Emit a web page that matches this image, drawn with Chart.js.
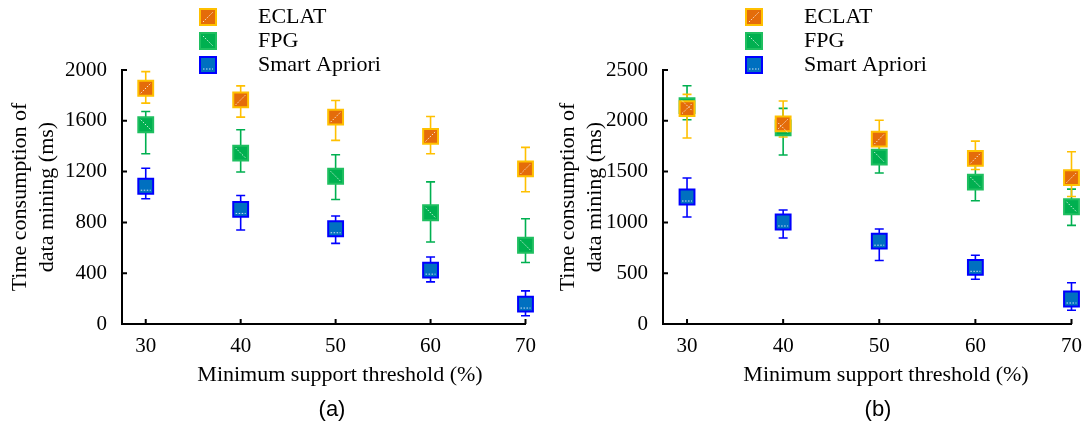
<!DOCTYPE html>
<html>
<head>
<meta charset="utf-8">
<script src="https://cdn.jsdelivr.net/npm/chart.js@4.4.0/dist/chart.umd.min.js"></script>
<style>
  html, body { margin: 0; padding: 0; background: #fff; }
  #wrap { position: relative; width: 1092px; height: 429px; }
  .box { position: absolute; top: 0; width: 546px; height: 429px; }
</style>
</head>
<body>
<div id="wrap">
  <div class="box" style="left:0"><canvas id="chartA" width="546" height="429"></canvas></div>
  <div class="box" style="left:546px"><canvas id="chartB" width="546" height="429"></canvas></div>
</div>
<script>
const thresholds = [30, 40, 50, 60, 70]
const seriesNames = ['ECLAT', 'FPG', 'Smart Apriori']

// (a)
const eclatA = [1856, 1765, 1629, 1477, 1221]
const eclatAHigh = [1987, 1875, 1760, 1634, 1391]
const eclatALow = [1739, 1629, 1446, 1341, 1041]
const fpgA = [1569, 1346, 1163, 876, 620]
const fpgAHigh = [1673, 1529, 1333, 1119, 829]
const fpgALow = [1341, 1197, 980, 646, 484]
const aprioriA = [1085, 902, 750, 424, 157]
const aprioriAHigh = [1226, 1012, 850, 528, 261]
const aprioriALow = [986, 740, 635, 332, 65]

// (b)
const eclatB = [2120, 1970, 1820, 1630, 1440]
const eclatBHigh = [2260, 2195, 2005, 1800, 1696]
const eclatBLow = [1830, 1840, 1690, 1520, 1255]
const fpgB = [2150, 1930, 1643, 1397, 1154]
const fpgBHigh = [2345, 2122, 1781, 1604, 1328]
const fpgBLow = [2010, 1663, 1486, 1213, 971]
const aprioriB = [1250, 1004, 815, 558, 246]
const aprioriBHigh = [1437, 1122, 935, 676, 406]
const aprioriBLow = [1053, 846, 625, 440, 135]

const serif = 'Liberation Serif'
const xTitle = 'Minimum support threshold (%)'

const styles = [
  { fill: '#E46C0A', border: '#FFC000', bar: '#FFC000', hatch: 'up' },
  { fill: '#00B050', border: '#1FBF60', bar: '#00B050', hatch: 'down' },
  { fill: '#0070C0', border: '#0000FF', bar: '#0000FF', hatch: 'flat' }
]

// little white dotted strokes inside the square markers
const drawHatch = (ctx, kind, cx, cy, h) => {
  ctx.save()
  ctx.strokeStyle = 'rgba(255,255,255,0.8)'
  ctx.lineWidth = 1
  ctx.setLineDash([1.5, 1.5])
  ctx.beginPath()
  if (kind === 'up') { ctx.moveTo(cx - h, cy + h); ctx.lineTo(cx + h, cy - h) }
  else if (kind === 'down') { ctx.moveTo(cx - h, cy - h); ctx.lineTo(cx + h, cy + h) }
  else { ctx.moveTo(cx - h, cy + h - 1); ctx.lineTo(cx + h, cy + h - 1) }
  ctx.stroke()
  ctx.restore()
}

const errorBars = {
  id: 'errorBars',
  beforeDatasetsDraw(chart) {
    const { ctx } = chart
    const yScale = chart.scales.y
    for (let i = chart.data.datasets.length - 1; i >= 0; i--) {
      const ds = chart.data.datasets[i]
      const meta = chart.getDatasetMeta(i)
      ctx.save()
      ctx.strokeStyle = ds.barColor
      ctx.lineWidth = 1.6
      meta.data.forEach((pt, j) => {
        const hi = yScale.getPixelForValue(ds.high[j])
        const lo = yScale.getPixelForValue(ds.low[j])
        ctx.beginPath()
        ctx.moveTo(pt.x, hi); ctx.lineTo(pt.x, lo)
        ctx.moveTo(pt.x - 4.5, hi); ctx.lineTo(pt.x + 4.5, hi)
        ctx.moveTo(pt.x - 4.5, lo); ctx.lineTo(pt.x + 4.5, lo)
        ctx.stroke()
      })
      ctx.restore()
    }
  },
  afterDatasetsDraw(chart) {
    const { ctx } = chart
    for (let i = chart.data.datasets.length - 1; i >= 0; i--) {
      const ds = chart.data.datasets[i]
      chart.getDatasetMeta(i).data.forEach(pt => drawHatch(ctx, ds.hatch, pt.x, pt.y, 5))
    }
  }
}

const inwardTicks = {
  id: 'inwardTicks',
  afterDraw(chart) {
    const { ctx, chartArea } = chart
    const { x, y } = chart.scales
    ctx.save()
    ctx.strokeStyle = '#000'
    ctx.lineWidth = 2
    ctx.beginPath()
    x.ticks.forEach(t => {
      const px = x.getPixelForValue(t.value)
      ctx.moveTo(px, chartArea.bottom); ctx.lineTo(px, chartArea.bottom - 5)
    })
    y.ticks.forEach(t => {
      if (t.value === 0) return
      const py = y.getPixelForValue(t.value)
      ctx.moveTo(chartArea.left, py); ctx.lineTo(chartArea.left + 5, py)
    })
    ctx.stroke()
    ctx.restore()
  }
}

const legendAndCaption = {
  id: 'legendAndCaption',
  afterDraw(chart, args, opts) {
    const { ctx } = chart
    ctx.save()
    chart.data.datasets.forEach((ds, i) => {
      const cy = 17 + i * 24
      ctx.fillStyle = ds.backgroundColor
      ctx.strokeStyle = ds.borderColor
      ctx.lineWidth = 2
      ctx.fillRect(200, cy - 8, 16, 16)
      ctx.strokeRect(200, cy - 8, 16, 16)
      drawHatch(ctx, ds.hatch, 208, cy, 5)
      ctx.fillStyle = '#000'
      ctx.font = '22px "' + serif + '"'
      ctx.textAlign = 'left'
      ctx.textBaseline = 'middle'
      ctx.fillText(ds.label, 258, cy)
    })
    // x-axis title sits a little right of the plot centre in the original
    ctx.font = '22px "' + serif + '"'
    ctx.textAlign = 'center'
    ctx.fillText(xTitle, 340, 375)
    ctx.font = '22px "Liberation Sans"'
    ctx.fillText(opts.caption, 332, 410)
    ctx.restore()
  }
}

const makeChart = (id, values, lows, highs, yMax, yStep, axisLeft, rightPad, titlePad, caption) => {
  const datasets = values.map((vals, i) => ({
    label: seriesNames[i],
    data: thresholds.map((t, j) => ({ x: t, y: vals[j] })),
    low: lows[i],
    high: highs[i],
    barColor: styles[i].bar,
    hatch: styles[i].hatch,
    backgroundColor: styles[i].fill,
    borderColor: styles[i].border,
    pointStyle: 'rect',
    pointRadius: 10.5,
    pointHoverRadius: 10.5,
    pointBorderWidth: 2,
    showLine: false,
    clip: false
  }))

  return new Chart(document.getElementById(id), {
    type: 'scatter',
    data: { datasets },
    plugins: [errorBars, inwardTicks, legendAndCaption],
    options: {
      responsive: false,
      animation: false,
      layout: { padding: { top: 70, right: rightPad, left: 0, bottom: 0 } },
      plugins: {
        legend: { display: false },
        tooltip: { enabled: false },
        legendAndCaption: { caption }
      },
      scales: {
        x: {
          type: 'linear',
          min: 27.5,
          max: 70,
          afterBuildTicks: s => { s.ticks = thresholds.map(v => ({ value: v })) },
          afterFit: s => { s.height = 105 },
          grid: { display: false, drawTicks: false },
          border: { display: true, color: '#000', width: 2 },
          ticks: { color: '#000', font: { family: serif, size: 21 }, padding: 10, maxRotation: 0 },
          title: { display: false }
        },
        y: {
          min: 0,
          max: yMax,
          afterFit: s => { s.width = axisLeft },
          grid: { display: false, drawTicks: false },
          border: { display: true, color: '#000', width: 2 },
          ticks: {
            stepSize: yStep,
            color: '#000',
            font: { family: serif, size: 21 },
            padding: 15,
            callback: v => String(v)
          },
          title: {
            display: true,
            text: ['Time consumption of', 'data mining (ms)'],
            color: '#000',
            font: { family: serif, size: 22, lineHeight: 1.25 },
            padding: { top: titlePad, bottom: 0 }
          }
        }
      }
    }
  })
}

makeChart('chartA',
  [eclatA, fpgA, aprioriA],
  [eclatALow, fpgALow, aprioriALow],
  [eclatAHigh, fpgAHigh, aprioriAHigh],
  2000, 400, 122, 11, 6, '(a)')

makeChart('chartB',
  [eclatB, fpgB, aprioriB],
  [eclatBLow, fpgBLow, aprioriBLow],
  [eclatBHigh, fpgBHigh, aprioriBHigh],
  2500, 500, 117, 16, 8, '(b)')
</script>
</body>
</html>
